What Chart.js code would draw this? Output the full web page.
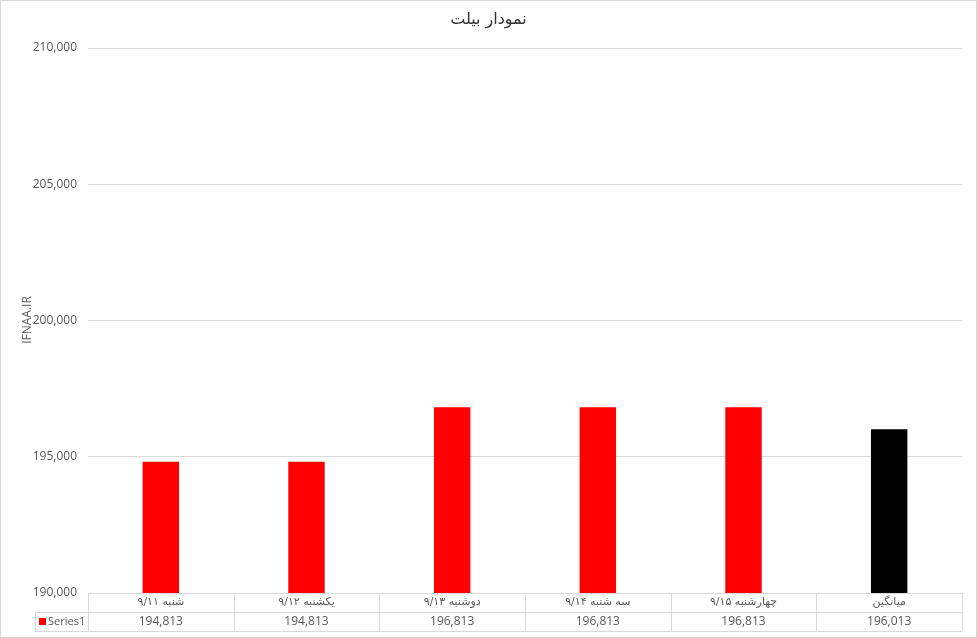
<!DOCTYPE html>
<html>
<head>
<meta charset="utf-8">
<script src="https://cdn.jsdelivr.net/npm/chart.js@4"></script>
<style>
  html, body { margin: 0; padding: 0; background: #fff; }
  #wrap { width: 977px; height: 638px; }
</style>
</head>
<body>
<div id="wrap"><canvas id="myChart" width="977" height="638"></canvas></div>
<script>
// data block
const labels = ["شنبه ۹/۱۱", "یکشنبه ۹/۱۲", "دوشنبه ۹/۱۳", "سه شنبه ۹/۱۴", "چهارشنبه ۹/۱۵", "میانگین"];
const values = [194813, 194813, 196813, 196813, 196813, 196013];
const barColors = ["#ff0000", "#ff0000", "#ff0000", "#ff0000", "#ff0000", "#000000"];
const seriesName = "Series1";
const chartTitle = "نمودار بیلت";
const axisTitle = "IFNAA.IR";

const gridColor = "#d9d9d9";
const textColor = "#595959";
const fontFamily = "'DejaVu Sans', 'Open Sans', sans-serif";

// draws title, axis title, the data table and the outer border
const extras = {
  id: "extras",
  afterDraw(chart) {
    const c = chart.ctx;
    const x = chart.scales.x;
    const area = chart.chartArea;
    c.save();

    // outer border
    c.strokeStyle = gridColor;
    c.lineWidth = 1;
    c.strokeRect(0.5, 0.5, chart.width - 1, chart.height - 1);

    // title
    c.fillStyle = "#333";
    c.font = "16px " + fontFamily;
    c.textAlign = "center";
    c.textBaseline = "middle";
    c.fillText(chartTitle, chart.width / 2, 20);

    // y axis title
    c.save();
    c.translate(28, 320);
    c.rotate(-Math.PI / 2);
    c.fillStyle = textColor;
    c.font = "12px 'Open Sans', sans-serif";
    c.fillText(axisTitle, 0, 0);
    c.restore();

    // data table
    const top = area.bottom;
    const rowH = 19;
    const legLeft = 35;
    c.strokeStyle = gridColor;
    c.beginPath();
    c.moveTo(area.left, top + 0.5); c.lineTo(area.right, top + 0.5);
    c.moveTo(legLeft, top + rowH + 0.5); c.lineTo(area.right, top + rowH + 0.5);
    c.moveTo(legLeft, top + 2 * rowH + 0.5); c.lineTo(area.right, top + 2 * rowH + 0.5);
    c.moveTo(legLeft + 0.5, top + rowH); c.lineTo(legLeft + 0.5, top + 2 * rowH);
    const step = (area.right - area.left) / labels.length;
    for (let i = 0; i <= labels.length; i++) {
      const bx = Math.round(area.left + i * step) + 0.5;
      c.moveTo(bx, top); c.lineTo(bx, top + 2 * rowH);
    }
    c.stroke();

    c.fillStyle = textColor;
    c.textAlign = "center";
    labels.forEach((lab, i) => {
      const cx = x.getPixelForValue(i);
      c.font = "11px " + fontFamily;
      c.fillText(lab, cx, top + rowH / 2);
      c.font = "12px 'Open Sans', sans-serif";
      c.fillText(values[i].toLocaleString("en-US"), cx, top + rowH * 1.5);
    });

    // legend key
    c.fillStyle = barColors[0];
    c.fillRect(39, top + rowH + 6, 7, 7);
    c.fillStyle = textColor;
    c.textAlign = "left";
    c.font = "11px 'Open Sans', sans-serif";
    c.fillText(seriesName, 48, top + rowH * 1.5);

    c.restore();
  }
};

const data = {
  labels: labels,
  datasets: [
    {
      label: seriesName,
      data: values,
      backgroundColor: barColors,
      barPercentage: 0.25,
      categoryPercentage: 1,
    },
  ],
};

const config = {
  type: "bar",
  data: data,
  options: {
    responsive: false,
    animation: false,
    layout: { padding: { left: 0, top: 48, right: 15, bottom: 45 } },
    plugins: {
      legend: { display: false },
      tooltip: { enabled: false },
    },
    scales: {
      x: { display: false },
      y: {
        min: 190000,
        max: 210000,
        border: { display: false },
        grid: { color: gridColor, drawTicks: false },
        ticks: {
          stepSize: 5000,
          padding: 11,
          color: textColor,
          font: { family: "'Open Sans', sans-serif", size: 12 },
          callback: (v) => v.toLocaleString("en-US"),
        },
        afterFit: (scale) => { scale.width = 88; },
      },
    },
  },
  plugins: [extras],
};

const ctx = document.getElementById("myChart");
const myChart = new Chart(ctx, config);
</script>
</body>
</html>
